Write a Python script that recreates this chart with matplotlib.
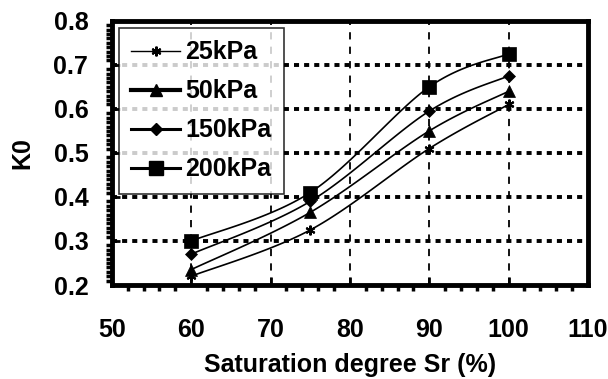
import numpy as np
import matplotlib
matplotlib.use("Agg")
import matplotlib.pyplot as plt
from matplotlib.lines import Line2D
from matplotlib.ticker import MultipleLocator

plt.rcParams['font.family'] = ['Liberation Sans', 'DejaVu Sans']
plt.rcParams['font.weight'] = 'bold'

sr = [60, 75, 90, 100]
k0_25 = [0.22, 0.325, 0.51, 0.61]
k0_50 = [0.235, 0.365, 0.55, 0.64]
k0_150 = [0.27, 0.39, 0.595, 0.675]
k0_200 = [0.30, 0.41, 0.65, 0.725]
labels = ['25kPa', '50kPa', '150kPa', '200kPa']
xticks = [50, 60, 70, 80, 90, 100, 110]
yticks = [0.2, 0.3, 0.4, 0.5, 0.6, 0.7, 0.8]


def smooth(xs, ys, n=40):
    """Bezier smoothing through the given points (like a spreadsheet smoothed line)."""
    pts = np.column_stack([xs, ys]).astype(float)
    out = []
    m = len(pts)
    for i in range(m - 1):
        p0 = pts[i - 1] if i > 0 else pts[i]
        p1 = pts[i]
        p2 = pts[i + 1]
        p3 = pts[i + 2] if i + 2 < m else pts[i + 1]
        c1 = p1 + (p2 - p0) / 6.0
        c2 = p2 - (p3 - p1) / 6.0
        t = np.linspace(0, 1, n)[:, None]
        seg = ((1 - t) ** 3) * p1 + 3 * ((1 - t) ** 2) * t * c1 + 3 * (1 - t) * t ** 2 * c2 + t ** 3 * p2
        out.append(seg if i == 0 else seg[1:])
    seg = np.vstack(out)
    return seg[:, 0], seg[:, 1]


fig = plt.figure(figsize=(6.08, 3.79), dpi=100)
ax = fig.add_axes([0.184, 0.248, 0.783, 0.697])

series = [k0_25, k0_50, k0_150, k0_200]
markers = [(6, 2, 0), '^', 'D', 's']
msizes = [7, 8, 6, 10]
for ys, mk, ms in zip(series, markers, msizes):
    xs_s, ys_s = smooth(sr, ys)
    ax.plot(xs_s, ys_s, color='black', lw=1.2, zorder=3)
    ax.plot(sr, ys, linestyle='none', marker=mk, markersize=ms, color='black',
            markeredgewidth=1.5 if mk == (6, 2, 0) else 0.5, zorder=4)

ax.set_xlim(50, 110)
ax.set_ylim(0.2, 0.8)
ax.set_xticks(xticks)
ax.set_yticks(yticks)
ax.set_xticklabels([str(v) for v in xticks])
ax.set_yticklabels([f"{v:.1f}" for v in yticks])
ax.xaxis.set_minor_locator(MultipleLocator(2))
ax.yaxis.set_minor_locator(MultipleLocator(0.01))

ax.tick_params(which='major', direction='in', length=6, width=2, labelsize=18)
ax.tick_params(axis='x', which='major', pad=24)
ax.tick_params(axis='y', which='major', pad=17)
ax.tick_params(which='minor', direction='out', length=4, width=2.5)
for s in ax.spines.values():
    s.set_linewidth(3.5)

# grid
for v in [60, 70, 80, 90, 100]:
    ax.axvline(v, color='black', lw=1.3, ls=(0, (4, 4)), zorder=1)
for v in [0.3, 0.4, 0.5, 0.6, 0.7]:
    ax.axhline(v, color='black', lw=2.8, ls=(0, (1.3, 1.3)), zorder=1)

ax.set_xlabel('Saturation degree Sr (%)', fontsize=18, fontweight='bold', labelpad=8)
ax.set_ylabel('K0', fontsize=18, fontweight='bold', labelpad=14)

handles = [
    Line2D([], [], color='black', lw=1.0, marker=(6, 2, 0), markersize=7, markeredgewidth=1.5),
    Line2D([], [], color='black', lw=3.0, marker='^', markersize=8),
    Line2D([], [], color='black', lw=2.2, marker='D', markersize=6),
    Line2D([], [], color='black', lw=2.2, marker='s', markersize=10),
]
leg = ax.legend(handles, labels, loc='upper left', bbox_to_anchor=(0.0147, 0.973),
                prop={'size': 18, 'weight': 'bold'}, frameon=True, fancybox=False,
                handlelength=1.95, handletextpad=0.2, labelspacing=0.6,
                borderpad=0.5, borderaxespad=0.0)
leg.get_frame().set_edgecolor('black')
leg.get_frame().set_linewidth(1.2)
leg.set_zorder(5)

fig.savefig('out.png', dpi=100)
